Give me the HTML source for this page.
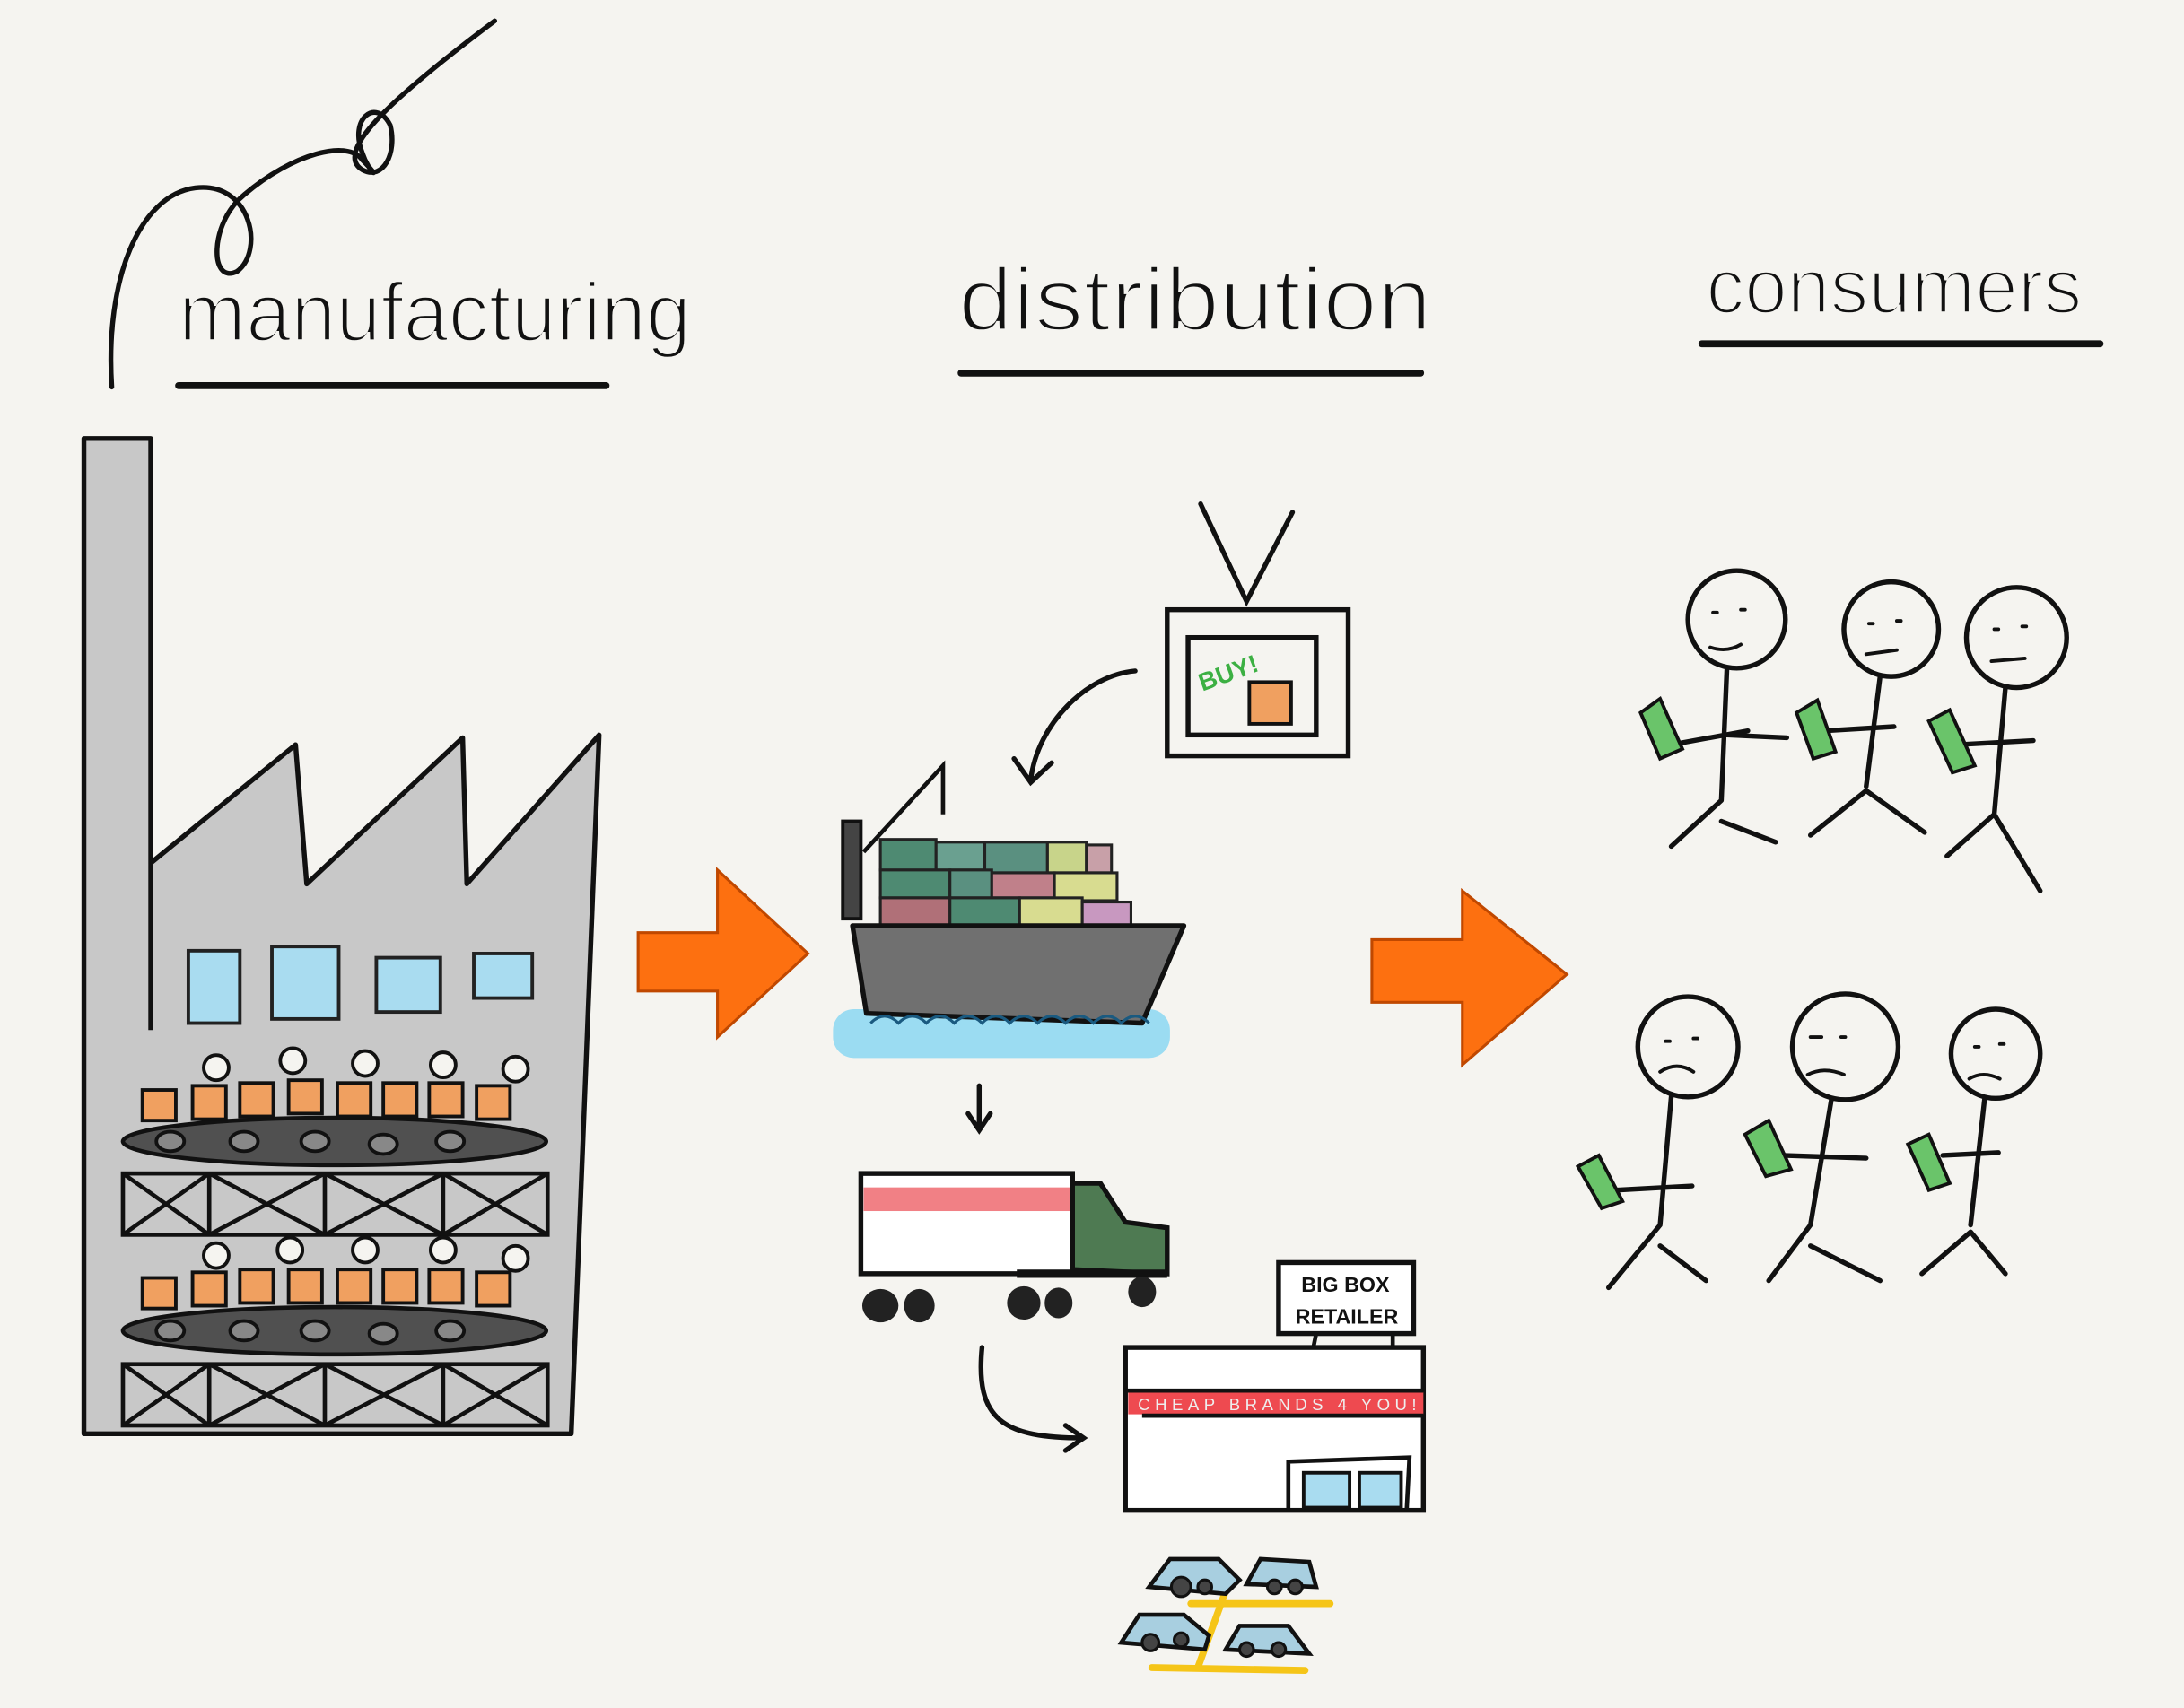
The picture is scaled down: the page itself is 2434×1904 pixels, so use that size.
<!DOCTYPE html>
<html><head><style>
html,body{margin:0;padding:0;background:#f5f4f0;}
svg{display:block}
text{font-family:"Liberation Sans",sans-serif;}
.hw{stroke:#f5f4f0;stroke-width:2.2px;}
</style></head><body>
<svg width="2434" height="1904" viewBox="0 0 1568 1227" xmlns="http://www.w3.org/2000/svg">
<rect width="1568" height="1227" fill="#f5f4f0"/>
<g fill="none" stroke="#111" stroke-width="3.5" stroke-linecap="round" stroke-linejoin="round">
<path d="M80,278 C75,200 100,140 140,135 C180,130 190,180 170,195 C150,205 150,160 175,140 C210,110 250,100 260,115 C275,130 265,125 260,110 C250,85 270,70 280,90 C285,110 275,130 260,122 C240,110 275,75 355,15"/>
<path d="M128,277 L435,277" stroke-width="5"/>
<path d="M690,268 L1020,268" stroke-width="5"/>
<path d="M1222,247 L1508,247" stroke-width="5"/>
</g>
<text class="hw" x="128" y="245" font-size="60" fill="#111" textLength="368" lengthAdjust="spacingAndGlyphs">manufacturing</text>
<text class="hw" x="688" y="237" font-size="64" fill="#111" textLength="340" lengthAdjust="spacingAndGlyphs">distribution</text>
<text class="hw" x="1225" y="225" font-size="56" fill="#111" textLength="270" lengthAdjust="spacingAndGlyphs">consumers</text>

<polygon points="60,315 108,315 108,620 212,535 220,635 332,530 335,635 430,528 410,1030 60,1030" fill="#c8c8c8"/>
<g fill="none" stroke="#111" stroke-width="3.5" stroke-linejoin="round">
<path d="M108,740 L108,315 L60,315 L60,1030 L410,1030 L430,528 L335,635 L332,530 L220,635 L212,535 L108,620"/>
</g>
<g fill="#a9dcf0" stroke="#222" stroke-width="2.5">
<rect x="135" y="683" width="37" height="52"/><rect x="195" y="680" width="48" height="52"/>
<rect x="270" y="688" width="46" height="39"/><rect x="340" y="685" width="42" height="32"/>
</g>
<g fill="#505050" stroke="#111" stroke-width="3">
<ellipse cx="240" cy="820" rx="152" ry="17"/><ellipse cx="240" cy="956" rx="152" ry="17"/>
</g>
<g fill="#888" stroke="#111" stroke-width="2.5">
<ellipse cx="122" cy="820" rx="10" ry="7"/><ellipse cx="175" cy="820" rx="10" ry="7"/><ellipse cx="226" cy="820" rx="10" ry="7"/><ellipse cx="275" cy="822" rx="10" ry="7"/><ellipse cx="323" cy="820" rx="10" ry="7"/>
<ellipse cx="122" cy="956" rx="10" ry="7"/><ellipse cx="175" cy="956" rx="10" ry="7"/><ellipse cx="226" cy="956" rx="10" ry="7"/><ellipse cx="275" cy="958" rx="10" ry="7"/><ellipse cx="323" cy="956" rx="10" ry="7"/>
</g>
<g fill="none" stroke="#111" stroke-width="3">
<rect x="88" y="843" width="305" height="44"/>
<path d="M150,843V887M233,843V887M318,843V887M88,843L150,887M150,843L88,887M150,843L233,887M233,843L150,887M233,843L318,887M318,843L233,887M318,843L393,887M393,843L318,887"/>
<rect x="88" y="980" width="305" height="44"/>
<path d="M150,980V1024M233,980V1024M318,980V1024M88,980L150,1024M150,980L88,1024M150,980L233,1024M233,980L150,1024M233,980L318,1024M318,980L233,1024M318,980L393,1024M393,980L318,1024"/>
</g>
<g fill="#f0a060" stroke="#111" stroke-width="2.5">
<rect x="102" y="783" width="24" height="22"/><rect x="138" y="780" width="24" height="24"/><rect x="172" y="778" width="24" height="24"/><rect x="207" y="776" width="24" height="24"/><rect x="242" y="778" width="24" height="24"/><rect x="275" y="778" width="24" height="24"/><rect x="308" y="778" width="24" height="24"/><rect x="342" y="780" width="24" height="24"/>
<rect x="102" y="918" width="24" height="22"/><rect x="138" y="914" width="24" height="24"/><rect x="172" y="912" width="24" height="24"/><rect x="207" y="912" width="24" height="24"/><rect x="242" y="912" width="24" height="24"/><rect x="275" y="912" width="24" height="24"/><rect x="308" y="912" width="24" height="24"/><rect x="342" y="914" width="24" height="24"/>
</g>
<g fill="#f5f4f0" stroke="#111" stroke-width="2.5">
<circle cx="155" cy="767" r="9"/><circle cx="210" cy="762" r="9"/><circle cx="262" cy="764" r="9"/><circle cx="318" cy="765" r="9"/><circle cx="370" cy="768" r="9"/>
<circle cx="155" cy="902" r="9"/><circle cx="208" cy="898" r="9"/><circle cx="262" cy="898" r="9"/><circle cx="318" cy="898" r="9"/><circle cx="370" cy="904" r="9"/>
</g>

<polygon points="458,670 515,670 515,625 580,685 515,745 515,712 458,712" fill="#fd7010" stroke="#c04800" stroke-width="2"/>
<polygon points="985,675 1050,675 1050,640 1125,700 1050,765 1050,720 985,720" fill="#fd7010" stroke="#c04800" stroke-width="2"/>

<g fill="none" stroke="#111" stroke-width="3.5" stroke-linecap="round">
<rect x="838" y="438" width="130" height="105" fill="#f5f4f0"/>
<rect x="853" y="458" width="92" height="70"/>
<path d="M862,362 L895,432 L928,368"/>
<path d="M815,482 C780,485 745,520 740,560 M728,545 L740,562 L755,548"/>
<path d="M703,780 L703,810 M695,800 L703,812 L711,800"/>
<path d="M705,968 C700,1020 720,1033 778,1033 M765,1024 L778,1033 L765,1042"/>
</g>
<text x="860" y="492" font-size="18" fill="#3cb043" font-weight="bold" transform="rotate(-20 875 485)">BUY!</text>
<rect x="897" y="490" width="30" height="30" fill="#f0a060" stroke="#111" stroke-width="2.5"/>

<rect x="598" y="725" width="242" height="35" rx="15" fill="#9bdcf2"/>
<g stroke="#222" stroke-width="2">
<rect x="632" y="603" width="40" height="22" fill="#4e8a72"/><rect x="672" y="605" width="35" height="20" fill="#6aa090"/><rect x="707" y="605" width="45" height="22" fill="#5a9080"/><rect x="752" y="605" width="28" height="22" fill="#c8d48a"/><rect x="780" y="607" width="18" height="20" fill="#c8a0a8"/>
<rect x="632" y="625" width="50" height="20" fill="#4e8a72"/><rect x="682" y="625" width="30" height="20" fill="#5a9080"/><rect x="712" y="627" width="45" height="18" fill="#c0808a"/><rect x="757" y="627" width="45" height="20" fill="#d8dc90"/>
<rect x="632" y="645" width="50" height="22" fill="#b07078"/><rect x="682" y="645" width="50" height="22" fill="#4e8a72"/><rect x="732" y="645" width="45" height="22" fill="#d8dc90"/><rect x="777" y="648" width="35" height="18" fill="#c898c0"/>
</g>
<polygon points="612,665 850,665 820,735 622,728" fill="#707070" stroke="#111" stroke-width="3.5" stroke-linejoin="round"/>
<rect x="605" y="590" width="13" height="70" fill="#444" stroke="#111" stroke-width="2.5"/>
<path d="M620,612 L677,550 L677,585" fill="none" stroke="#111" stroke-width="3"/>
<path d="M625,735 q10,-10 20,0 q10,-10 20,0 q10,-10 20,0 q10,-10 20,0 q10,-10 20,0 q10,-10 20,0 q10,-10 20,0 q10,-10 20,0 q10,-10 20,0 q10,-10 20,0" fill="none" stroke="#1a5a80" stroke-width="2"/>

<rect x="618" y="843" width="152" height="72" fill="#fff" stroke="#111" stroke-width="3.5"/>
<rect x="620" y="853" width="150" height="17" fill="#ee6066" opacity="0.8"/>
<path d="M770,912 L770,850 L790,850 L808,878 L838,882 L838,915 Z" fill="#4e7a52" stroke="#111" stroke-width="3.5"/>
<path d="M730,915 L838,915" stroke="#111" stroke-width="6"/>
<g fill="#222">
<ellipse cx="632" cy="938" rx="13" ry="12"/><ellipse cx="660" cy="938" rx="11" ry="12"/><ellipse cx="735" cy="936" rx="12" ry="12"/><ellipse cx="760" cy="936" rx="10" ry="11"/><ellipse cx="820" cy="928" rx="10" ry="11"/>
</g>

<rect x="918" y="907" width="97" height="51" fill="#fff" stroke="#111" stroke-width="3.5"/>
<text x="966" y="928" font-size="15" text-anchor="middle" font-weight="bold" fill="#111">BIG BOX</text>
<text x="967" y="951" font-size="15" text-anchor="middle" font-weight="bold" fill="#111">RETAILER</text>
<path d="M945,958 L943,968 M1000,958 L1000,968" stroke="#111" stroke-width="3"/>
<rect x="808" y="968" width="214" height="117" fill="#fff" stroke="#111" stroke-width="3.5"/>
<rect x="810" y="1000" width="212" height="16" fill="#ee4a50"/>
<text x="817" y="1013" font-size="12" fill="#eee" textLength="200" lengthAdjust="spacing">CHEAP   BRANDS  4  YOU!</text>
<path d="M808,999 L1022,999 M820,1017 L1022,1017" stroke="#111" stroke-width="3"/>
<path d="M925,1085 L925,1050 L1012,1047 L1010,1085" fill="none" stroke="#111" stroke-width="3"/>
<rect x="936" y="1058" width="33" height="25" fill="#a9dcf0" stroke="#111" stroke-width="2.5"/>
<rect x="976" y="1058" width="30" height="25" fill="#a9dcf0" stroke="#111" stroke-width="2.5"/>

<g stroke="#f5c518" stroke-width="5" stroke-linecap="round" fill="none">
<path d="M855,1152 L955,1152 M827,1198 L937,1200 M884,1132 L860,1198"/>
</g>
<g fill="#a8cfe0" stroke="#111" stroke-width="3">
<path d="M825,1140 L840,1120 L875,1120 L890,1135 L880,1145 Z"/>
<path d="M895,1138 L905,1120 L940,1122 L945,1140 Z"/>
<path d="M805,1180 L818,1160 L850,1160 L868,1175 L865,1185 Z"/>
<path d="M880,1185 L890,1168 L925,1168 L940,1188 Z"/>
</g>
<g fill="#444" stroke="#111" stroke-width="2">
<circle cx="848" cy="1140" r="7"/><circle cx="865" cy="1140" r="5"/><circle cx="915" cy="1140" r="5"/><circle cx="930" cy="1140" r="5"/>
<circle cx="826" cy="1180" r="6"/><circle cx="848" cy="1178" r="5"/><circle cx="895" cy="1185" r="5"/><circle cx="918" cy="1185" r="5"/>
</g>

<g fill="none" stroke="#111" stroke-width="3.5" stroke-linecap="round">
<circle cx="1247" cy="445" r="35"/><path d="M1240,480 L1236,575 M1200,535 L1255,525 M1240,528 L1283,530 M1236,575 L1200,608 M1236,590 L1275,605"/>
<circle cx="1358" cy="452" r="34"/><path d="M1350,486 L1340,565 M1310,525 L1360,522 M1340,568 L1300,600 M1340,568 L1382,598"/>
<circle cx="1448" cy="458" r="36"/><path d="M1440,494 L1432,585 M1405,535 L1460,532 M1432,585 L1398,615 M1432,585 L1465,640"/>
<circle cx="1212" cy="752" r="36"/><path d="M1200,788 L1192,880 M1160,855 L1215,852 M1192,880 L1155,925 M1192,895 L1225,920"/>
<circle cx="1325" cy="752" r="38"/><path d="M1315,790 L1300,880 M1280,830 L1340,832 M1300,880 L1270,920 M1300,895 L1350,920"/>
<circle cx="1433" cy="757" r="32"/><path d="M1425,790 L1415,880 M1395,830 L1435,828 M1415,885 L1380,915 M1415,885 L1440,915"/>
</g>
<g fill="none" stroke="#111" stroke-width="2.5" stroke-linecap="round">
<path d="M1230,440 l3,0 M1250,438 l3,0 M1228,465 q12,4 22,-2"/>
<path d="M1342,448 l3,0 M1362,446 l3,0 M1340,470 l22,-3"/>
<path d="M1432,452 l3,0 M1452,450 l3,0 M1430,475 l24,-2"/>
<path d="M1196,748 l3,0 M1216,746 l3,0 M1192,770 q12,-8 24,0"/>
<path d="M1300,745 l8,0 M1322,745 l3,0 M1298,772 q12,-6 26,0"/>
<path d="M1418,752 l3,0 M1436,750 l3,0 M1414,775 q10,-6 22,0"/>
</g>
<g fill="#6ac46a" stroke="#111" stroke-width="2.5">
<path d="M1178,512 L1192,502 L1208,538 L1192,545 Z"/>
<path d="M1290,512 L1305,503 L1318,540 L1302,545 Z"/>
<path d="M1385,518 L1400,510 L1418,550 L1402,555 Z"/>
<path d="M1133,838 L1148,830 L1165,863 L1150,868 Z"/>
<path d="M1253,815 L1270,805 L1286,840 L1268,845 Z"/>
<path d="M1370,822 L1385,815 L1400,850 L1385,855 Z"/>
</g>
</svg>
</body></html>
